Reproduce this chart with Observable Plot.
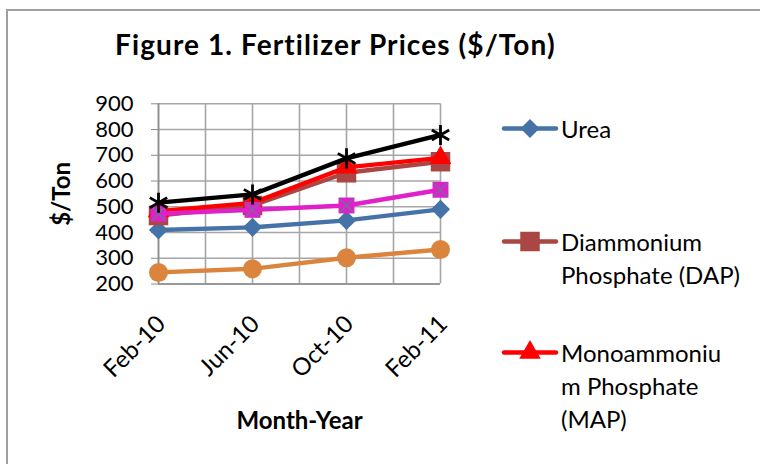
<!DOCTYPE html>
<html>
<head>
<meta charset="utf-8">
<script src="https://cdn.jsdelivr.net/npm/d3@7"></script>
<script src="https://cdn.jsdelivr.net/npm/@observablehq/plot@0.6"></script>
<style>
  html, body { margin: 0; padding: 0; background: #fff; overflow: hidden; }
  #wrap { position: relative; width: 760px; height: 464px; overflow: hidden; font-family: Lato, "Open Sans", sans-serif; color: #000; }
  #frame { position: absolute; left: 6px; top: 9px; width: 900px; height: 600px; border-top: 2px solid #a0a0a0; border-left: 2px solid #a0a0a0; }
  #chart { position: absolute; left: 0; top: 0; }
  #title { position: absolute; left: 115px; top: 27px; font-weight: bold; font-size: 28px; letter-spacing: 1.1px; white-space: nowrap; }
  .leg { position: absolute; left: 502px; font-size: 24px; line-height: 33px; white-space: nowrap; }
  .leg svg { position: absolute; left: 0; top: 0; }
  .leg span { position: absolute; left: 59px; top: 0; }
</style>
</head>
<body>
<div id="wrap">
  <div id="frame"></div>
  <div id="chart"></div>
  <div id="title">Figure 1. Fertilizer Prices ($/Ton)</div>
  <div id="legend"></div>
</div>
<script>
// ---- data ----
const categories = ["Feb-10", "Jun-10", "Oct-10", "Feb-11"];
const urea = [410, 420, 447, 490];
const dap = [466, 505, 632, 675];
const mapP = [483, 515, 653, 690];
const potash = [473, 488, 505, 566];
const ammonia = [516, 548, 688, 779];
const uan = [245, 259, 302, 334];
const yTicks = [200, 300, 400, 500, 600, 700, 800, 900];
const legendLabels = [["Urea"], ["Diammonium", "Phosphate (DAP)"], ["Monoammoniu", "m Phosphate", "(MAP)"]];

const series = [
  {name: "Urea", values: urea, color: "#4572A7", symbol: "diamond2", r: 8.6},
  {name: "Diammonium Phosphate (DAP)", values: dap, color: "#AA4643", symbol: "square", r: 11},
  {name: "Monoammonium Phosphate (MAP)", values: mapP, color: "#FF0000", symbol: "triangle", r: 8},
  {name: "Potash", values: potash, color: "#E020C8", symbol: "square", r: 9, cross: true},
  {name: "Anhydrous Ammonia", values: ammonia, color: "#000000", symbol: "asterisk", r: 9.5, stroked: true},
  {name: "28% Nitrogen", values: uan, color: "#DB843D", symbol: "circle", r: 9.5}
];

const font = "Lato, 'Open Sans', sans-serif";
const marks = [
  Plot.gridY(yTicks, {stroke: "#a6a6a6", strokeOpacity: 1, strokeWidth: 1.6}),
  Plot.gridX([0, 0.5, 1, 1.5, 2, 2.5, 3], {stroke: "#a6a6a6", strokeOpacity: 1, strokeWidth: 1.6}),
  Plot.ruleX([0], {stroke: "#8c8c8c", strokeWidth: 1.6}),
  Plot.ruleY([200], {stroke: "#8c8c8c", strokeWidth: 1.6}),
  Plot.axisY({ticks: yTicks, tickSize: 7, tickPadding: 18, stroke: "#8c8c8c", fill: "#000", fontSize: 22, label: null}),
  Plot.axisX({ticks: [0, 1, 2, 3], tickFormat: d => categories[d], tickRotate: -45, tickSize: 0, tickPadding: 36, dx: 3, fill: "#000", fontSize: 24, label: null}),
  Plot.text(["$/Ton"], {frameAnchor: "left", textAnchor: "middle", dx: -96, dy: 0, rotate: -90, fontWeight: "bold", fontSize: 24, fill: "#000"}),
  Plot.text(["Month-Year"], {frameAnchor: "bottom", dx: 0, dy: 145, fontWeight: "bold", fontSize: 24, fill: "#000"})
];
for (const s of series) {
  const rows = s.values.map((v, i) => ({i, v, cat: categories[i]}));
  marks.push(Plot.line(rows, {x: "i", y: "v", stroke: s.color, strokeWidth: 4.4, strokeLinejoin: "round", strokeLinecap: "round"}));
  if (s.stroked) {
    marks.push(Plot.dot(rows, {x: "i", y: "v", symbol: s.symbol, r: s.r, stroke: s.color, strokeWidth: 2.8}));
  } else {
    marks.push(Plot.dot(rows, {x: "i", y: "v", symbol: s.symbol, r: s.r, fill: s.color, stroke: "none"}));
  }
  if (s.cross) {
    marks.push(Plot.dot(rows, {x: "i", y: "v", symbol: "times", r: 6.5, stroke: "#8064A2", strokeWidth: 1.6}));
  }
}

const chart = Plot.plot({
  width: 760,
  height: 464,
  marginLeft: 158,
  marginRight: 320,
  marginTop: 103.3,
  marginBottom: 180.5,
  style: {fontFamily: font, color: "#000", background: "transparent", overflow: "visible"},
  x: {type: "linear", domain: [0, 3]},
  y: {type: "linear", domain: [200, 900]},
  marks
});
document.getElementById("chart").appendChild(chart);

// ---- legend (first three entries, as in the cropped original) ----
const legendTops = [128, 241, 352];
const leg = document.getElementById("legend");
series.slice(0, 3).forEach((s, k) => {
  const div = document.createElement("div");
  div.className = "leg";
  const cy = legendTops[k];
  div.style.top = (cy - 16.5) + "px";
  const sym = d3.symbol(d3["symbol" + s.symbol.charAt(0).toUpperCase() + s.symbol.slice(1)], Math.PI * s.r * s.r)();
  div.innerHTML = `<svg width="60" height="34" style="overflow:visible"><line x1="2" x2="54" y1="16.5" y2="16.5" stroke="${s.color}" stroke-width="4.4" stroke-linecap="round"/><path d="${sym}" transform="translate(28,16.5)" fill="${s.color}"/></svg><span>${legendLabels[k].join("<br>")}</span>`;
  leg.appendChild(div);
});
</script>
</body>
</html>
